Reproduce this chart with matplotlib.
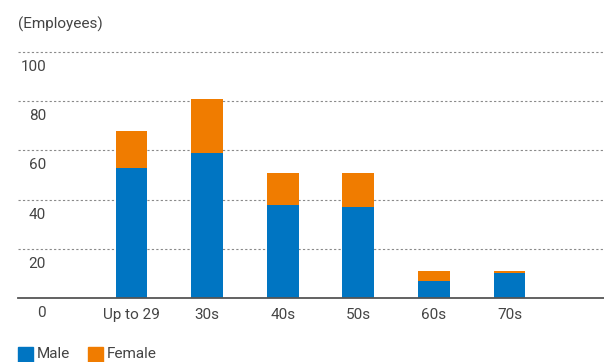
import matplotlib
matplotlib.use("Agg")
import matplotlib.pyplot as plt
import matplotlib.transforms as mtransforms
from matplotlib.patches import Rectangle

categories = ["Up to 29", "30s", "40s", "50s", "60s", "70s"]
male = [53, 59, 38, 37, 7, 10]
female = [15, 22, 13, 14, 4, 1]
yticks = [0, 20, 40, 60, 80, 100]
unit_label = "(Employees)"
legend_labels = ["Male", "Female"]

BLUE = "#0075C2"
ORANGE = "#F07C00"
TEXT = "#444444"

plt.rcParams['font.family'] = ['Roboto', 'DejaVu Sans']

W, H = 604, 362
fig = plt.figure(figsize=(W / 100, H / 100), dpi=100)

y_bottom_px = 298
y_top_px = 52
px_per_unit = (y_bottom_px - y_top_px) / 100
ymax = 103
ax_h = ymax * px_per_unit
ax = fig.add_axes([18 / W, (H - y_bottom_px) / H, (W - 18) / W, ax_h / H])

x = list(range(len(categories)))
ax.bar(x, male, width=0.42, color=BLUE, zorder=3)
ax.bar(x, female, width=0.42, bottom=male, color=ORANGE, zorder=3)

ax.set_xlim(-1.5, 6.25)
ax.set_ylim(0, ymax)

for s in ["top", "right", "left"]:
    ax.spines[s].set_visible(False)
ax.spines["bottom"].set_color("#555555")
ax.spines["bottom"].set_linewidth(1.3)
ax.spines["bottom"].set_zorder(4)

ax.set_yticks([])
for v in yticks[1:]:
    ax.axhline(v, color="#8a8a8a", linestyle=(0, (2, 2)), linewidth=0.8, zorder=1)

trans = mtransforms.blended_transform_factory(fig.transFigure, ax.transData)
off = mtransforms.offset_copy(trans, fig=fig, x=0, y=-15, units='dots')
for v in yticks:
    ax.text(46 / W, v, str(v), transform=off, ha="right", va="center",
            fontsize=11, color=TEXT)

ax.set_xticks(x)
ax.set_xticklabels(categories, fontsize=11, color=TEXT)
ax.tick_params(axis="x", length=0, pad=7)

fig.text(18 / W, 1 - 24 / H, unit_label, ha="left", va="center", fontsize=11, color=TEXT)

# legend
for lab, col, xs in zip(legend_labels, [BLUE, ORANGE], [18, 88]):
    fig.patches.append(Rectangle((xs / W, 1 - 362 / H), 15 / W, 15 / H,
                                 transform=fig.transFigure, color=col))
    fig.text((xs + 19) / W, 1 - 354 / H, lab, ha="left", va="center",
             fontsize=11, color=TEXT)

fig.savefig("out.png", dpi=100)
